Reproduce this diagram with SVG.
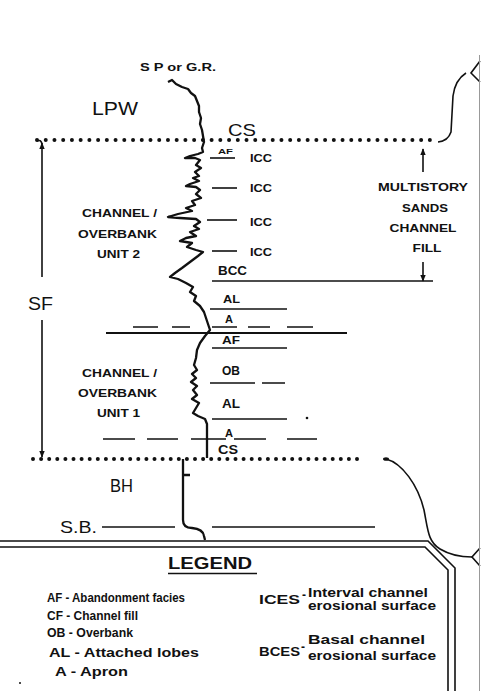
<svg xmlns="http://www.w3.org/2000/svg" width="481" height="691" viewBox="0 0 481 691">
<style>
text{font-family:"Liberation Sans",Arial,sans-serif;fill:#111}
.b{font-weight:bold}
.ln{stroke:#111;stroke-width:1.6;fill:none}
.th{stroke:#111;stroke-width:2.2;fill:none}
.dot{stroke:#111;stroke-width:4;stroke-linecap:round;fill:none}
.log{stroke:#111;stroke-width:2.3;fill:none;stroke-linejoin:round}
</style>
<defs>
<marker id="ah" viewBox="0 0 10 10" refX="9" refY="5" markerWidth="7" markerHeight="7" orient="auto" markerUnits="userSpaceOnUse">
<path d="M0,1 L10,5 L0,9 z" fill="#111"/>
</marker>
</defs>
<rect width="481" height="691" fill="#fff"/>

<g id="connectors">
<line class="dot" x1="37" y1="140" x2="430" y2="140" stroke-dasharray="0 8.73"/>
<line class="dot" x1="33" y1="459" x2="365" y2="459" stroke-dasharray="0 8.1"/>
<path class="ln" d="M37,141 Q41,139 42,144"/>
<line class="ln" x1="42" y1="277" x2="42" y2="143" marker-end="url(#ah)"/>
<line class="ln" x1="42" y1="320" x2="42" y2="457" marker-end="url(#ah)"/>
<line class="ln" x1="423" y1="172" x2="423" y2="149" marker-end="url(#ah)"/>
<line class="ln" x1="423" y1="262" x2="423" y2="281" marker-end="url(#ah)"/>
<line class="ln" x1="210" y1="158" x2="235" y2="158"/>
<line class="ln" x1="212" y1="188" x2="237" y2="188"/>
<line class="ln" x1="207" y1="220" x2="237" y2="220"/>
<line class="ln" x1="212" y1="251" x2="237" y2="251"/>
<line class="ln" x1="212" y1="281" x2="433" y2="281"/>
<line class="ln" x1="210" y1="309" x2="287" y2="309"/>
<path class="ln" d="M133,327H158M172,327H190M212,327H237M248,327H270M287,327H313"/>
<line class="th" x1="106" y1="333" x2="347" y2="333"/>
<line class="ln" x1="212" y1="348" x2="287" y2="348"/>
<path class="ln" d="M210,383H255M262,383H285"/>
<line class="ln" x1="212" y1="419" x2="287" y2="419"/>
<path class="ln" d="M103,439H135M147,439H178M191,439H226M234,439H266M287,439H317"/>
<line class="ln" x1="102" y1="527" x2="175" y2="527"/>
<line class="ln" x1="212" y1="527" x2="375" y2="527"/>
<path class="ln" d="M438,142 Q448,141 451,132 L453,96 Q455,80 466,73"/>
<path class="ln" d="M480,61 L471,73 L480,82"/>
<ellipse cx="386" cy="459" rx="3" ry="1.8" fill="#111"/>
<path class="ln" d="M386,459 C402,463 418,485 424,510 C428,530 428,542 440,549 C450,555 460,557 472,557"/>
<path class="ln" d="M480,548 L472,557 L480,566"/>
<line x1="479.5" y1="55" x2="479.5" y2="691" stroke="#999" stroke-width="1"/>
<path class="ln" d="M0,541 H428 L455,568 V691"/>
<path class="ln" d="M0,547 H425 L448,570 V691"/>
<circle cx="307" cy="418" r="1.3" fill="#111"/>
<circle cx="20" cy="683" r="1" fill="#111"/>
</g>

<g id="log">
<path class="log" d="M168,82 L172,80 176,84 182,87 188,89 191,93 195,96 197,101 199,106 199,112 201,118 200,124 202,130 203,136 204,142 202,148 203,152 198,154 190,156 185,158 195,158 200,160 196,165 201,168 195,172 199,176 193,178 199,181 190,184 186,186 196,187 200,190 196,194 201,198 192,201 195,205 186,208 192,211 178,214 168,217 180,218 196,219 200,222 194,226 199,229 190,232 196,236 186,238 180,241 192,243 187,247 196,250 203,252 198,256 190,262 182,268 175,273 170,277 178,279 186,283 193,287 190,292 196,296 194,301 200,306 204,312 206,318 208,324 210,330 205,336 200,343 197,350 196,358 194,365 197,370 192,374 196,378 191,382 197,386 193,390 197,395 192,399 199,403 196,408 193,413 198,416 205,419 207,424 207,458"/>
<path class="log" d="M183,459 L183,520 Q183,528 192,528 Q203,529 204,536 L205,540 M183,475 H190"/>
</g>

<g id="top-labels">
<text class="b" x="140" y="71" font-size="10.5" textLength="76" lengthAdjust="spacingAndGlyphs">S P or G.R.</text>
<text x="92" y="115" font-size="18" textLength="46" lengthAdjust="spacingAndGlyphs">LPW</text>
<text x="228" y="136" font-size="17" textLength="28" lengthAdjust="spacingAndGlyphs">CS</text>
</g>

<g id="unit2">
<text class="b" x="218" y="154" font-size="8" textLength="15" lengthAdjust="spacingAndGlyphs">AF</text>
<text class="b" x="250" y="162" font-size="11" textLength="22" lengthAdjust="spacingAndGlyphs">ICC</text>
<text class="b" x="250" y="192" font-size="11" textLength="22" lengthAdjust="spacingAndGlyphs">ICC</text>
<text class="b" x="250" y="226" font-size="11" textLength="22" lengthAdjust="spacingAndGlyphs">ICC</text>
<text class="b" x="250" y="256" font-size="11" textLength="22" lengthAdjust="spacingAndGlyphs">ICC</text>
<text class="b" x="218" y="275" font-size="12" textLength="29" lengthAdjust="spacingAndGlyphs">BCC</text>
<text class="b" x="223" y="303" font-size="11" textLength="17" lengthAdjust="spacingAndGlyphs">AL</text>
<text class="b" x="225" y="323" font-size="10" textLength="8" lengthAdjust="spacingAndGlyphs">A</text>
<text class="b" x="82" y="217" font-size="11" textLength="75" lengthAdjust="spacingAndGlyphs">CHANNEL /</text>
<text class="b" x="78" y="238" font-size="11" textLength="79" lengthAdjust="spacingAndGlyphs">OVERBANK</text>
<text class="b" x="97" y="258" font-size="11" textLength="43" lengthAdjust="spacingAndGlyphs">UNIT 2</text>
</g>

<g id="multistory">
<text class="b" x="423" y="191" font-size="11" text-anchor="middle" textLength="90" lengthAdjust="spacingAndGlyphs">MULTISTORY</text>
<text class="b" x="425" y="212" font-size="11" text-anchor="middle" textLength="46" lengthAdjust="spacingAndGlyphs">SANDS</text>
<text class="b" x="423" y="232" font-size="11" text-anchor="middle" textLength="67" lengthAdjust="spacingAndGlyphs">CHANNEL</text>
<text class="b" x="427" y="252" font-size="11" text-anchor="middle" textLength="29" lengthAdjust="spacingAndGlyphs">FILL</text>
</g>

<g id="sf">
<text x="28" y="310" font-size="18" textLength="25" lengthAdjust="spacingAndGlyphs">SF</text>
</g>

<g id="unit1">
<text class="b" x="222" y="344" font-size="10" textLength="18" lengthAdjust="spacingAndGlyphs">AF</text>
<text class="b" x="222" y="375" font-size="12" textLength="18" lengthAdjust="spacingAndGlyphs">OB</text>
<text class="b" x="222" y="408" font-size="12" textLength="18" lengthAdjust="spacingAndGlyphs">AL</text>
<text class="b" x="225" y="437" font-size="11" textLength="8" lengthAdjust="spacingAndGlyphs">A</text>
<text class="b" x="218" y="454" font-size="13" textLength="20" lengthAdjust="spacingAndGlyphs">CS</text>
<text class="b" x="82" y="377" font-size="11" textLength="75" lengthAdjust="spacingAndGlyphs">CHANNEL /</text>
<text class="b" x="78" y="397" font-size="11" textLength="79" lengthAdjust="spacingAndGlyphs">OVERBANK</text>
<text class="b" x="97" y="417" font-size="11" textLength="43" lengthAdjust="spacingAndGlyphs">UNIT 1</text>
</g>

<g id="bottom-labels">
<text x="110" y="492" font-size="18" textLength="23" lengthAdjust="spacingAndGlyphs">BH</text>
<text x="60" y="533" font-size="17" textLength="37" lengthAdjust="spacingAndGlyphs">S.B.</text>
</g>

<g id="legend">
<text class="b" x="168" y="569" font-size="17" textLength="84" lengthAdjust="spacingAndGlyphs">LEGEND</text>
<line class="ln" x1="168" y1="573.5" x2="257" y2="573.5"/>
<text class="b" x="47" y="602" font-size="12.5" textLength="138" lengthAdjust="spacingAndGlyphs">AF - Abandonment facies</text>
<text class="b" x="47" y="620" font-size="12.5" textLength="91" lengthAdjust="spacingAndGlyphs">CF - Channel fill</text>
<text class="b" x="47" y="637" font-size="12.5" textLength="86" lengthAdjust="spacingAndGlyphs">OB - Overbank</text>
<text class="b" x="49" y="657" font-size="12.5" textLength="150" lengthAdjust="spacingAndGlyphs">AL - Attached lobes</text>
<text class="b" x="55" y="676" font-size="12.5" textLength="73" lengthAdjust="spacingAndGlyphs">A - Apron</text>
<text class="b" x="259" y="604" font-size="12.5" textLength="41" lengthAdjust="spacingAndGlyphs">ICES</text>
<text class="b" x="302" y="599" font-size="12">-</text>
<text class="b" x="308" y="597" font-size="12" textLength="120" lengthAdjust="spacingAndGlyphs">Interval channel</text>
<text class="b" x="308" y="610" font-size="12" textLength="128" lengthAdjust="spacingAndGlyphs">erosional surface</text>
<text class="b" x="259" y="656" font-size="12.5" textLength="41" lengthAdjust="spacingAndGlyphs">BCES</text>
<text class="b" x="301" y="651" font-size="12">-</text>
<text class="b" x="308" y="644" font-size="12" textLength="117" lengthAdjust="spacingAndGlyphs">Basal channel</text>
<text class="b" x="308" y="660" font-size="12" textLength="128" lengthAdjust="spacingAndGlyphs">erosional surface</text>
</g>
</svg>
